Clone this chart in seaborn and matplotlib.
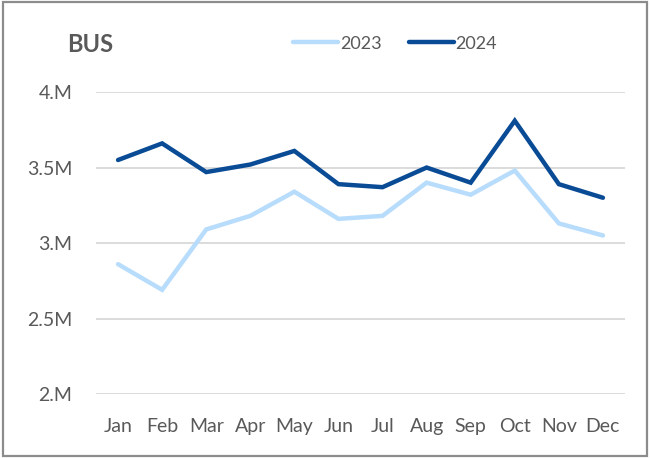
import numpy as np
import pandas as pd
import matplotlib
matplotlib.use("Agg")
import matplotlib.pyplot as plt
import seaborn as sns
from matplotlib.patches import Rectangle
from matplotlib.lines import Line2D

# ─── Data (millions of riders) ───────────────────────────────────────────────
months = ["Jan", "Feb", "Mar", "Apr", "May", "Jun",
          "Jul", "Aug", "Sep", "Oct", "Nov", "Dec"]
rides_2023 = [2.86, 2.69, 3.09, 3.18, 3.34, 3.16, 3.18, 3.40, 3.32, 3.48, 3.13, 3.05]
rides_2024 = [3.55, 3.66, 3.47, 3.52, 3.61, 3.39, 3.37, 3.50, 3.40, 3.81, 3.39, 3.30]
years = ["2023", "2024"]
colors = {"2023": "#b8dcfc", "2024": "#0a4b96"}
yticks = [2.0, 2.5, 3.0, 3.5, 4.0]
ytick_labels = ["2.M", "2.5M", "3.M", "3.5M", "4.M"]

df = pd.DataFrame({
    "month": list(range(12)) * 2,
    "rides": rides_2023 + rides_2024,
    "year": ["2023"] * 12 + ["2024"] * 12,
})

sns.set_theme(style="white")
plt.rcParams["font.family"] = ["Lato", "DejaVu Sans"]

fig = plt.figure(figsize=(6.5, 4.58), dpi=100)
ax = fig.add_axes([0.1477, 0.1397, 0.9615 - 0.1477, 0.799 - 0.1397])

sns.lineplot(data=df, x="month", y="rides", hue="year", palette=colors,
             linewidth=3.2, ax=ax, legend=False, zorder=3)
for ln in ax.lines:
    ln.set_solid_capstyle("round")
    ln.set_solid_joinstyle("miter")

ax.set_xlim(-0.5, 11.5)
ax.set_ylim(2.0, 4.0)
ax.set_yticks(yticks)
ax.set_yticklabels(ytick_labels)
ax.set_xticks(range(12))
ax.set_xticklabels(months)
ax.tick_params(axis="both", length=0, labelsize=14, colors="#595959")
ax.tick_params(axis="y", pad=17)
ax.tick_params(axis="x", pad=17)
ax.grid(axis="y", color="#d9d9d9", linewidth=1.3, zorder=0)
ax.set_xlabel("")
ax.set_ylabel("")
for s in ax.spines.values():
    s.set_visible(False)

# Title
fig.text(0.103, 0.902, "BUS", fontsize=17, fontweight="bold",
         color="#595959", va="center", ha="left")

# Legend
handles = [Line2D([0], [0], color=colors[y], lw=3.2, solid_capstyle="round")
           for y in years]
fig.legend(handles, years, loc="center right", bbox_to_anchor=(0.765, 0.905),
           ncol=2, frameon=False, fontsize=13, handlelength=2.5,
           handletextpad=0.1, columnspacing=1.5, labelcolor="#595959",
           borderpad=0, borderaxespad=0)

# Outer border
fig.patches.append(Rectangle((0.004, 0.005), 0.992, 0.99, transform=fig.transFigure,
                             fill=False, edgecolor="#8c8c8c", linewidth=1.6))

fig.savefig("out.png", dpi=100)
